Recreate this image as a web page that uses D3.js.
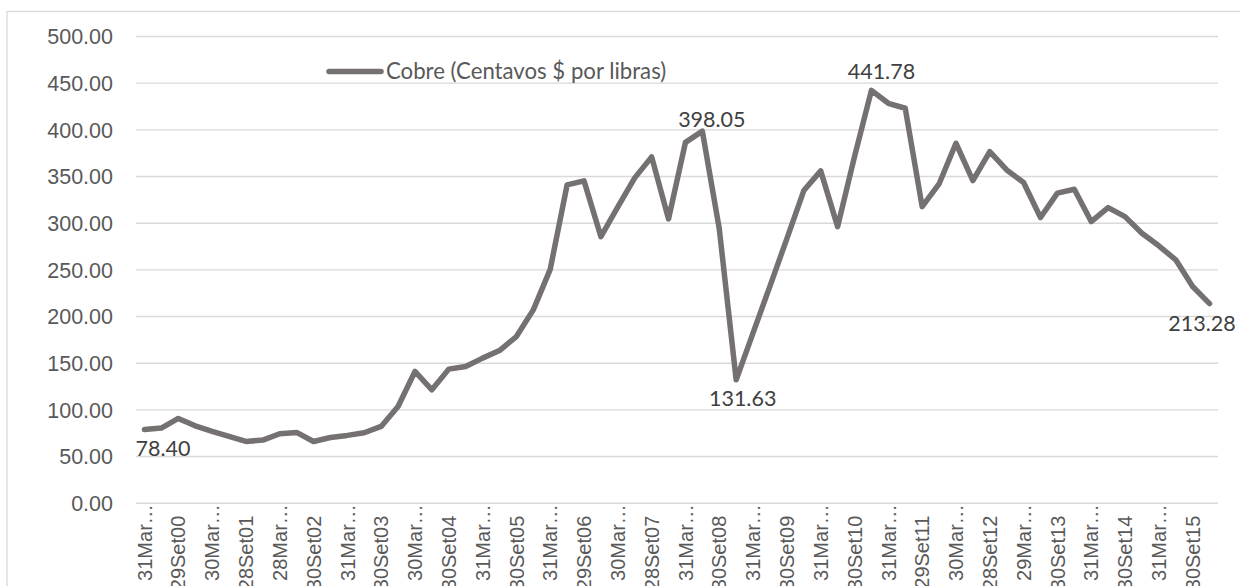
<!DOCTYPE html>
<html>
<head>
<meta charset="utf-8">
<script src="https://cdn.jsdelivr.net/npm/d3@7/dist/d3.min.js"></script>
<style>
  html, body { margin: 0; padding: 0; background: #fff; }
  svg { display: block; font-family: Lato, "Open Sans", sans-serif; }
</style>
</head>
<body>
<svg id="chart" width="1240" height="586"></svg>
<script>
// ---- data ----
const seriesName = "Cobre (Centavos $ por libras)";
const values = [78.40, 80.0, 90.3, 82.4, 76.4, 71.0, 65.6, 67.1, 73.9, 75.3,
  65.6, 69.9, 72.1, 74.9, 81.7, 103.1, 140.6, 121.0, 143.1, 146.0,
  154.9, 163.0, 178.0, 206.6, 250.0, 340.5, 344.8, 285.1, 317.0, 348.0,
  370.5, 304.0, 386.0, 398.05, 293.5, 131.63, 182.0, 232.0, 283.0, 334.4,
  355.5, 295.8, 370.8, 441.78, 427.9, 422.6, 317.2, 341.5, 385.1, 345.1,
  376.1, 356.5, 343.0, 305.5, 331.6, 335.8, 301.2, 316.2, 306.5, 288.7,
  275.2, 260.2, 231.6, 213.28];
const xTickLabels = ["31Mar…", "29Set00", "30Mar…", "28Set01", "28Mar…", "30Set02",
  "31Mar…", "30Set03", "30Mar…", "30Set04", "31Mar…", "30Set05", "31Mar…", "29Set06",
  "30Mar…", "28Set07", "31Mar…", "30Set08", "31Mar…", "30Set09", "31Mar…", "30Set10",
  "31Mar…", "29Set11", "30Mar…", "28Set12", "29Mar…", "30Set13", "31Mar…", "30Set14",
  "31Mar…", "30Set15"];
const yTicks = [0, 50, 100, 150, 200, 250, 300, 350, 400, 450, 500];
const labelledPoints = [0, 33, 35, 43, 63];

// ---- layout ----
const svg = d3.select("#chart");
const plot = { left: 136, right: 1218, top: 36, bottom: 502.7 };
const lineColor = "#767171";
const fontSize = "21.5px";

// chart border
svg.append("rect").attr("x", 7).attr("y", 11.5).attr("width", 1260).attr("height", 600)
  .attr("fill", "none").attr("stroke", "#d9d9d9").attr("stroke-width", 1.3);

const categories = d3.range(values.length);
const x = d3.scaleBand().domain(categories).range([plot.left, plot.right]).padding(0);
const xc = i => x(i) + x.bandwidth() / 2;
const y = d3.scaleLinear().domain([0, 500]).range([plot.bottom, plot.top]);

// gridlines + y labels
const yAxis = d3.axisLeft(y).tickValues(yTicks).tickFormat(d3.format(".2f"))
  .tickSize(-(plot.right - plot.left)).tickPadding(23);
const gy = svg.append("g").attr("transform", `translate(${plot.left},0)`).call(yAxis);
gy.select(".domain").remove();
gy.selectAll(".tick line").attr("stroke", "#d9d9d9").attr("stroke-width", 1.4);
gy.selectAll(".tick text").attr("fill", "#595959").style("font-size", fontSize)
  .attr("dy", "0.36em");

// x labels (every 2nd category)
const xAxis = d3.axisBottom(x)
  .tickValues(categories.filter(i => i % 2 === 0))
  .tickFormat(i => xTickLabels[i / 2]).tickSize(0);
const gx = svg.append("g").attr("transform", `translate(0,${plot.bottom})`).call(xAxis);
gx.select(".domain").remove();
gx.selectAll(".tick text")
  .attr("fill", "#595959").style("font-size", "20px")
  .attr("text-anchor", "end")
  .attr("transform", "rotate(-90)")
  .attr("x", d => xTickLabels[d / 2].includes("…") ? -1.5 : -13)
  .attr("y", 0)
  .attr("dy", "0.36em");

// line
const line = d3.line().x((d, i) => xc(i)).y(d => y(d));
svg.append("path").datum(values)
  .attr("d", line)
  .attr("fill", "none").attr("stroke", lineColor).attr("stroke-width", 5.5)
  .attr("stroke-linejoin", "round").attr("stroke-linecap", "round");

// data labels
const labelOffsets = { 0: [18.5, 19], 33: [9.5, -12], 35: [6.5, 18], 43: [10, -19], 63: [-7.5, 20] };
svg.append("g").selectAll("text").data(labelledPoints).join("text")
  .attr("x", i => xc(i) + labelOffsets[i][0])
  .attr("y", i => y(values[i]) + labelOffsets[i][1])
  .attr("dy", "0.36em")
  .attr("text-anchor", "middle")
  .attr("fill", "#404040").style("font-size", fontSize)
  .text(i => d3.format(".2f")(values[i]));

// legend
const lg = svg.append("g");
lg.append("line").attr("x1", 329).attr("x2", 381).attr("y1", 71.5).attr("y2", 71.5)
  .attr("stroke", lineColor).attr("stroke-width", 5.5).attr("stroke-linecap", "round");
lg.append("text").attr("x", 386).attr("y", 71.5).attr("dy", "0.36em")
  .attr("fill", "#595959").style("font-size", "22.2px").text(seriesName);
</script>
</body>
</html>
